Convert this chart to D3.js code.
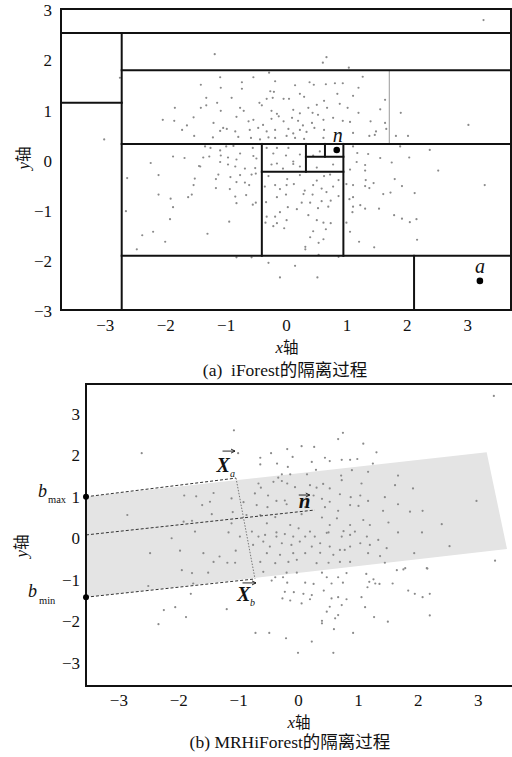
<!DOCTYPE html>
<html><head><meta charset="utf-8">
<script src="https://cdn.jsdelivr.net/npm/d3@7"></script>
<style>
body{margin:0;background:#fff}
svg{display:block}
text{font-family:"Liberation Serif","Times New Roman","Noto Sans CJK SC",serif;fill:#111}
</style>
</head><body>
<script>
// ---------- data ----------
const xTicks = [-3,-2,-1,0,1,2,3];
const yTicks = [-3,-2,-1,0,1,2,3];
const captionA = "(a)  iForest的隔离过程";
const captionB = "(b) MRHiForest的隔离过程";

// iForest partition segments [x1,y1,x2,y2] (data units)
const splitsA = [
  [-3.725,2.52,3.725,2.52],
  [-2.72,-3,-2.72,2.52],
  [-3.725,1.13,-2.72,1.13],
  [-2.72,1.78,3.725,1.78],
  [-2.72,0.31,3.725,0.31],
  [-2.72,-1.92,3.725,-1.92],
  [2.12,-3,2.12,-1.92],
  [-0.40,-1.92,-0.40,0.31],
  [0.95,-1.92,0.95,0.31],
  [-0.40,-0.243,0.95,-0.243],
  [0.33,-0.243,0.33,0.31],
  [0.33,0.056,0.95,0.056],
  [0.645,0.056,0.645,0.31]
];
const thinSplitsA = [[1.71,0.31,1.71,1.78]];

const pointsA = [
[-1.09,1.64],[-0.28,1.73],[-1.41,1.49],[-1.08,1.43],[-0.73,1.54],[-0.54,1.64],[-0.18,1.56],[0.15,1.48],[0.39,1.54],[0.46,1.49],[0.66,1.50],[0.81,1.52],[0.94,1.52],[1.27,1.65],[1.20,1.43],[-0.73,1.41],[-0.26,1.36],[-0.20,1.35],[0.23,1.31],[0.30,1.25],[0.85,1.31],[1.11,1.27],[-1.32,1.23],[-1.14,1.13],[-0.90,1.23],[-0.44,1.13],[-0.32,1.21],[-0.22,1.23],[-0.04,1.21],[0.05,1.21],[0.51,1.09],[0.63,1.17],[0.89,1.11],[1.64,1.19],[-1.84,1.03],[-1.41,1.03],[-1.32,1.08],[-1.08,0.97],[-0.76,1.03],[-0.70,0.97],[-0.40,1.08],[-0.24,0.97],[-0.15,0.91],[0.12,0.99],[0.23,0.92],[0.37,1.03],[0.44,0.93],[0.68,1.03],[1.02,1.03],[1.20,0.93],[1.56,1.00],
[-2.04,0.79],[-1.85,0.77],[-1.53,0.84],[-1.20,0.73],[-1.04,0.63],[-0.82,0.85],[-0.62,0.76],[-0.54,0.79],[-0.38,0.69],[-0.24,0.81],[-0.12,0.86],[-0.04,0.76],[0.10,0.83],[0.20,0.77],[0.28,0.68],[0.43,0.73],[0.53,0.89],[0.62,0.79],[0.78,0.83],[0.94,0.77],[1.06,0.75],[1.40,0.76],[1.64,0.73],
[-1.72,0.59],[-1.64,0.68],[-1.09,0.57],[-0.98,0.61],[-0.84,0.56],[-0.60,0.59],[-0.46,0.63],[-0.32,0.56],[-0.18,0.59],[0.04,0.61],[0.12,0.52],[0.23,0.59],[0.34,0.55],[0.47,0.63],[0.63,0.59],[0.89,0.52],[1.11,0.53],[1.49,0.56],[1.66,0.61],
[-1.52,0.47],[-1.21,0.44],[-0.79,0.45],[-0.58,0.43],[-0.43,0.40],[-0.29,0.44],[-0.18,0.43],[0.01,0.47],[0.15,0.43],[0.30,0.41],[0.62,0.43],[1.38,0.47],[1.47,0.49],[1.90,0.93],[1.82,0.47],[2.02,0.47],[3.02,0.69],
[0.67,2.04],[0.61,1.93],[1.04,1.83],[-1.18,2.10],[-2.75,1.63],[-3.01,0.40],[3.27,2.78],
[-2.24,-0.07],[-1.87,0.06],[-1.68,0.03],[-1.42,-0.14],[-1.37,0.04],[-1.27,0.06],[-1.34,0.26],[-1.25,0.23],[-1.09,0.18],[-1.08,0.08],[-0.99,0.26],[-0.96,0.04],[-0.87,0.27],[-0.82,0.00],[-0.76,0.12],[-0.55,0.23],[-0.54,0.07],[-0.49,0.02],[-0.32,0.23],[-0.21,0.12],[-0.15,0.23],[0.00,0.08],[0.04,0.23],[0.12,-0.04],[0.23,0.10],[0.45,0.08],[0.56,0.16],[1.11,0.26],[1.18,0.13],[1.36,0.11],[1.56,0.03],[1.89,0.26],[2.04,0.04],[2.38,0.19],[2.52,-0.22],
[-1.44,-0.13],[-1.09,-0.05],[-0.96,-0.10],[-0.84,-0.14],[-0.68,-0.18],[-0.51,-0.17],[-2.63,-0.37],[-2.11,-0.31],[-1.53,-0.51],[-1.51,-0.38],[-1.16,-0.39],[-1.12,-0.30],[-0.92,-0.35],[-0.82,-0.45],[-0.76,-0.31],[-0.68,-0.46],[-0.61,-0.51],[-0.57,-0.30],[-0.50,-0.28],[-1.16,-0.57],[-0.93,-0.59],[-2.11,-0.70],[-1.91,-0.78],[-1.62,-0.75],[-1.56,-0.70],[-0.84,-0.74],[-0.82,-0.87],[-0.66,-0.71],[-0.55,-0.90],[-0.50,-0.86],[-2.65,-1.03],[-1.87,-0.95],[-1.92,-1.19],[-0.94,-1.24],[-2.20,-1.44],[-2.38,-1.51],[-1.30,-1.48],[-2.00,-1.64],[-2.47,-1.79],
[-0.24,-0.10],[-0.15,-0.08],[-0.05,-0.18],[0.12,-0.09],[0.23,-0.14],[0.51,-0.16],[0.78,-0.10],[-0.29,-0.33],[0.02,-0.39],[0.23,-0.31],[0.51,-0.42],[0.63,-0.33],[0.73,-0.30],[0.87,-0.41],[-0.35,-0.54],[-0.18,-0.51],[-0.10,-0.59],[0.01,-0.51],[0.13,-0.49],[0.31,-0.62],[0.45,-0.51],[0.59,-0.58],[0.67,-0.65],[0.78,-0.54],[-0.15,-0.75],[0.00,-0.70],[0.29,-0.69],[0.44,-0.70],[0.87,-0.73],[-0.33,-0.85],[0.26,-0.86],[0.40,-0.86],[0.59,-0.83],[0.74,-0.82],[0.70,-0.94],[0.53,-0.97],[-0.10,-1.05],[0.03,-0.95],[0.18,-0.99],[-0.32,-1.14],[-0.18,-1.14],[0.01,-1.21],[0.37,-1.11],[0.51,-1.21],[0.62,-1.26],[0.74,-1.27],[-0.34,-1.26],[-0.15,-1.27],[-0.21,-1.33],[-0.03,-1.37],[0.66,-1.39],[0.45,-1.43],[0.40,-1.55],[0.54,-1.66],[0.62,-1.59],[0.32,-1.74],[0.32,-1.79],[0.54,-1.90],
[1.17,-0.05],[1.31,-0.11],[1.75,-0.06],[1.06,-0.20],[1.31,-0.22],[1.80,-0.39],[1.00,-0.49],[1.11,-0.51],[1.32,-0.41],[1.31,-0.53],[1.45,-0.47],[1.38,-0.57],[1.61,-0.69],[1.73,-0.66],[1.92,-0.53],[2.13,-0.67],[1.05,-0.79],[1.11,-0.75],[1.23,-0.91],[1.11,-0.94],[1.31,-0.98],[1.54,-0.98],[1.10,-1.05],[1.79,-1.11],[1.92,-1.18],[2.05,-1.25],[2.16,-1.19],[1.00,-1.26],[1.06,-1.44],[1.21,-1.64],[1.46,-1.75],[2.17,-1.60],[3.29,-0.51],
[-0.29,-2.06],[0.15,-2.12],[-0.10,-2.35],[0.52,-2.35],[-0.82,-1.95],[-0.57,-1.95],[0.87,-1.94]
];
const normalA = [0.84,0.19];
const anomalyA = [3.21,-2.42];

const pointsB = [
[-1.07,2.57],[0.75,2.51],[0.67,2.36],[1.09,2.25],[0.06,2.19],[0.27,2.17],[-0.18,2.12],[-1.00,2.02],[-0.45,2.02],[1.31,2.04],[-0.63,1.91],[-0.09,1.93],[0.45,1.91],[0.53,1.83],[0.73,1.86],[0.87,1.86],[0.99,1.88],[0.23,1.81],[-0.63,1.75],[-0.35,1.77],[-0.17,1.69],[1.25,1.77],[0.30,1.62],[0.15,1.51],[-0.13,1.51],[-0.27,1.51],[-0.33,1.43],[0.72,1.48],[0.90,1.61],[1.17,1.57],[1.67,1.48],[-0.66,1.29],[-0.62,1.19],[-0.41,1.33],[-0.27,1.35],[-0.18,1.29],[-0.05,1.20],[0.20,1.25],[0.31,1.19],[0.42,1.28],[0.53,1.17],[0.73,1.37],[1.06,1.29],[1.62,1.25],[1.92,1.17],
[-1.90,1.00],[-1.70,0.98],[-1.41,1.06],[-1.11,0.93],[-0.72,1.05],[-0.50,1.00],[-0.36,0.87],[-0.22,0.88],[0.26,1.00],[0.40,0.92],[0.53,0.85],[0.70,1.03],[0.88,0.96],[1.04,1.00],[1.17,0.87],[1.45,0.96],[1.67,0.79],[-1.60,0.77],[-1.47,0.85],[-0.91,0.84],[-0.69,0.77],[-0.51,0.72],[-0.19,0.79],[0.12,0.72],[0.45,0.72],[0.87,0.77],[1.01,0.75],[0.67,0.63],[1.42,0.63],[1.87,0.61],[2.08,0.63],[2.98,0.87],
[-1.44,0.55],[-1.09,0.60],[-0.86,0.53],[-0.63,0.53],[-0.38,0.48],[0.06,0.55],[0.40,0.47],[0.65,0.45],[1.09,0.41],[-1.91,0.37],[-1.77,0.39],[-1.11,0.33],[-0.52,0.33],[-0.13,0.29],[0.01,0.21],[0.53,0.29],[0.87,0.29],[1.20,0.29],[1.51,0.35],[2.40,0.31],[-1.72,0.13],[-1.16,0.11],[-0.77,0.13],[-0.36,0.11],[0.20,0.13],[0.51,0.11],[0.76,0.14],[0.95,0.13],[1.67,0.11],[2.07,0.11],
[3.27,3.40],[2.53,-0.22],[3.29,-0.57],[1.94,-0.39],[1.79,-0.75],[1.65,-0.80],[2.15,-0.75],
[-0.66,0.01],[-0.55,0.05],[-0.36,0.01],[-0.22,0.07],[-0.08,0.01],[0.12,0.01],[0.28,0.01],[0.48,0.10],[0.73,0.01],[0.87,0.05],[1.15,0.01],[1.34,-0.07],[-0.75,-0.19],[-0.58,-0.11],[-0.47,-0.23],[-0.27,-0.15],[-0.11,-0.19],[0.03,-0.11],[0.23,-0.23],[0.37,-0.15],[0.53,-0.23],[0.70,-0.31],[0.87,-0.23],[1.04,-0.15],[1.20,-0.19],[1.48,-0.27],[-0.52,-0.39],[-0.30,-0.43],[-0.08,-0.39],[0.12,-0.39],[0.37,-0.38],[0.59,-0.43],[0.78,-0.31],[1.17,-0.39],[1.37,-0.46],[-0.63,-0.60],[-0.38,-0.63],[-0.16,-0.60],[-0.02,-0.55],[0.31,-0.63],[0.51,-0.62],[0.70,-0.60],[0.87,-0.60],[1.45,-0.62],[-0.58,-0.84],[-0.19,-0.86],[0.40,-0.86],[0.81,-0.87],[1.14,-0.89],[-0.38,-0.97],[0.48,-0.97],[0.67,-0.97],[1.26,-1.02],
[-2.11,-0.03],[-1.97,-0.33],[-1.77,-0.87],[-1.50,-0.86],[-1.41,-0.60],[-1.31,-0.47],[-1.05,-0.62],[-1.04,-0.33],[-0.97,0.01],[-1.75,-1.12],[-1.79,-1.37],[-2.24,-1.76],[-2.05,-1.69],[-1.87,-1.93],[-2.33,-2.10],[-1.19,-1.74],
[-0.25,-0.97],[-0.44,-1.05],[-0.18,-1.10],[-0.02,-0.86],[0.12,-1.10],[0.26,-1.13],[0.43,-1.29],[0.56,-1.12],[0.75,-1.10],[-0.22,-1.32],[-0.07,-1.33],[0.09,-1.37],[0.23,-1.40],[-0.26,-1.48],[-0.13,-1.53],[0.06,-1.60],[0.20,-1.50],[0.56,-1.48],[0.67,-1.45],[0.81,-1.50],[0.73,-1.64],[1.06,-1.45],[0.53,-1.68],[0.48,-1.80],[0.67,-1.88],[0.62,-1.96],[0.40,-2.02],[0.40,-2.08],[0.60,-2.22],[0.92,-2.31],[1.12,-1.69],[1.27,-1.93],[1.50,-2.04],[1.16,-1.21],[1.19,-1.08],[1.29,-1.12],[1.36,-1.13],[1.58,-1.12],[1.84,-1.29],[1.95,-1.37],[2.08,-1.45],[2.20,-1.37],[2.20,-1.89],[2.16,-0.76],[1.76,-0.78],[-0.71,-2.31],[-0.48,-2.31],[-0.20,-2.44],[0.23,-2.52],[0.00,-2.79],[0.59,-2.79],
[-2.61,2.02],[-2.85,0.53],[-2.47,-0.39],[-1.58,-0.39],[-1.94,-0.80],[-1.18,-0.62],[-2.50,-1.18]
];
// rotated hyper-plane band (MRHiForest)
const bandB = [[-3.54,0.97],[3.15,2.04],[3.49,-0.29],[-3.54,-1.45]];
const bMax = [-3.54,0.97];
const bMin = [-3.54,-1.45];
const Xa = [-1.035,1.42];
const Xb = [-0.718,-1.01];
const nStart = [-3.54,0.05];
const nEnd = [0.28,0.65];

// ---------- drawing ----------
const W = 512, H = 757;
const svg = d3.select("body").append("svg").attr("width",W).attr("height",H);
svg.append("rect").attr("width",W).attr("height",H).attr("fill","#fff");

const fmt = d => d3.format("d")(d);
const TICKFONT = 17;

// ===== Chart A =====
const xA = d3.scaleLinear().domain([-3.725,3.725]).range([61,511]);
const yA = d3.scaleLinear().domain([-3,3]).range([310,9]);
const gA = svg.append("g");

gA.append("g").selectAll("circle").data(pointsA).join("circle")
  .attr("cx",d=>xA(d[0])).attr("cy",d=>yA(d[1])).attr("r",1.1).attr("fill","#8a8a8a");

gA.append("g").selectAll("line").data(thinSplitsA).join("line")
  .attr("x1",d=>xA(d[0])).attr("y1",d=>yA(d[1])).attr("x2",d=>xA(d[2])).attr("y2",d=>yA(d[3]))
  .attr("stroke","#999").attr("stroke-width",1);

gA.append("g").selectAll("line").data(splitsA).join("line")
  .attr("x1",d=>xA(d[0])).attr("y1",d=>yA(d[1])).attr("x2",d=>xA(d[2])).attr("y2",d=>yA(d[3]))
  .attr("stroke","#111").attr("stroke-width",2).attr("stroke-linecap","square");

gA.append("rect").attr("x",xA.range()[0]).attr("y",yA.range()[1])
  .attr("width",xA.range()[1]-xA.range()[0]).attr("height",yA.range()[0]-yA.range()[1])
  .attr("fill","none").attr("stroke","#111").attr("stroke-width",2);

gA.append("circle").attr("cx",xA(normalA[0])).attr("cy",yA(normalA[1])).attr("r",3.3).attr("fill","#000");
gA.append("circle").attr("cx",xA(anomalyA[0])).attr("cy",yA(anomalyA[1])).attr("r",3.3).attr("fill","#000");
gA.append("text").attr("x",xA(normalA[0])+1).attr("y",yA(normalA[1])-8)
  .attr("text-anchor","middle").attr("font-style","italic").attr("font-size",20).text("n");
gA.append("text").attr("x",xA(anomalyA[0])).attr("y",yA(anomalyA[1])-8)
  .attr("text-anchor","middle").attr("font-style","italic").attr("font-size",20).text("a");

const axAx = gA.append("g").attr("transform",`translate(0,${yA.range()[0]})`)
  .call(d3.axisBottom(xA).tickValues(xTicks).tickSize(0).tickPadding(9).tickFormat(fmt));
const axAy = gA.append("g").attr("transform",`translate(${xA.range()[0]},0)`)
  .call(d3.axisLeft(yA).tickValues(yTicks).tickSize(0).tickPadding(9).tickFormat(fmt));
[axAx,axAy].forEach(a=>{a.select(".domain").remove();
  a.selectAll("text").attr("font-size",TICKFONT).attr("fill","#111")
   .attr("font-family","'Liberation Serif','Times New Roman',serif");});
axAy.selectAll("text").attr("dy","0.4em");

function axisTitle(g, x, y, letter, rotate){
  const t = g.append("text").attr("text-anchor","middle").attr("font-size",17)
    .attr("transform",`translate(${x},${y})${rotate?" rotate(-90)":""}`);
  t.append("tspan").attr("font-style","italic").text(letter);
  t.append("tspan").attr("font-family","'Noto Sans CJK SC',sans-serif").attr("font-size",15.5).text("轴");
}
axisTitle(gA, 287, 353, "x", false);
axisTitle(gA, 29, 158, "y", true);
gA.append("text").attr("x",285).attr("y",376).attr("text-anchor","middle").attr("font-size",17.5)
  .attr("xml:space","preserve").style("white-space","pre").text(captionA);

// ===== Chart B =====
const xB = d3.scaleLinear().domain([-3.54,3.573]).range([86,512]);
const yB = d3.scaleLinear().domain([-3.59,3.687]).range([686,384]);
const gB = svg.append("g");

gB.append("path").datum(bandB)
  .attr("d",d3.line().x(d=>xB(d[0])).y(d=>yB(d[1])).curve(d3.curveLinearClosed))
  .attr("fill","#e4e4e4").attr("stroke","none");

gB.append("g").selectAll("circle").data(pointsB).join("circle")
  .attr("cx",d=>xB(d[0])).attr("cy",d=>yB(d[1])).attr("r",1.1).attr("fill","#8a8a8a");

const dashed = [[bMax,Xa],[nStart,nEnd],[bMin,Xb],[Xa,Xb]];
gB.append("g").selectAll("line").data(dashed).join("line")
  .attr("x1",d=>xB(d[0][0])).attr("y1",d=>yB(d[0][1])).attr("x2",d=>xB(d[1][0])).attr("y2",d=>yB(d[1][1]))
  .attr("stroke",(d,i)=>i===3?"#777":"#333").attr("stroke-width",1).attr("stroke-dasharray",(d,i)=>i===3?"1.5,1.5":"3,2");

const x0 = xB.range()[0], x1 = xB.range()[1], yT = yB.range()[1], yBt = yB.range()[0];
gB.append("path").attr("d",`M${x1},${yT}H${x0}V${yBt}H${x1}`)
  .attr("fill","none").attr("stroke","#111").attr("stroke-width",2);

[bMax,bMin].forEach(p=>gB.append("circle").attr("cx",xB(p[0])).attr("cy",yB(p[1])).attr("r",3).attr("fill","#000"));

const axBx = gB.append("g").attr("transform",`translate(0,${yBt})`)
  .call(d3.axisBottom(xB).tickValues(xTicks).tickSize(0).tickPadding(8).tickFormat(fmt));
const axBy = gB.append("g").attr("transform",`translate(${x0},0)`)
  .call(d3.axisLeft(yB).tickValues(yTicks).tickSize(0).tickPadding(6).tickFormat(fmt));
[axBx,axBy].forEach(a=>{a.select(".domain").remove();
  a.selectAll("text").attr("font-size",TICKFONT).attr("fill","#111")
   .attr("font-family","'Liberation Serif','Times New Roman',serif");});
axBy.selectAll("text").attr("dy","0.4em");

// vector arrow helper (pixel-space decoration above a label)
function vecArrow(g, xs, xe, y){
  g.append("path").attr("d",`M${xs},${y}H${xe}M${xe-4},${y-2}L${xe},${y}L${xe-4},${y+2}`)
    .attr("fill","none").attr("stroke","#111").attr("stroke-width",0.9);
}
// X_a
{
  const px = xB(Xa[0]), py = yB(Xa[1]);
  gB.append("text").attr("x",px-19.5).attr("y",py-6.5).attr("font-size",20).attr("font-weight","bold")
    .attr("font-style","italic").text("X");
  gB.append("text").attr("x",px-6).attr("y",py-1).attr("font-size",10).attr("font-style","italic").text("a");
  vecArrow(gB, px-13.5, px-1, py-27);
}
// X_b
{
  const px = xB(Xb[0]), py = yB(Xb[1]);
  gB.append("text").attr("x",px-18).attr("y",py+22).attr("font-size",20).attr("font-weight","bold")
    .attr("font-style","italic").text("X");
  gB.append("text").attr("x",px-5).attr("y",py+27).attr("font-size",10).attr("font-style","italic").text("b");
  vecArrow(gB, px-12.5, px+1, py+4);
}
// n
{
  const px = xB(nEnd[0]), py = yB(nEnd[1]);
  gB.append("text").attr("x",px-16).attr("y",py-2).attr("font-size",21).attr("font-weight","bold")
    .attr("font-style","italic").text("n");
  vecArrow(gB, px-16, px-5, py-15);
}
// b_max, b_min
{
  const px = xB(bMax[0]), py = yB(bMax[1]);
  gB.append("text").attr("x",px-48).attr("y",py).attr("font-size",18).attr("font-style","italic").text("b");
  gB.append("text").attr("x",px-38).attr("y",py+6).attr("font-size",10.5).text("max");
}
{
  const px = xB(bMin[0]), py = yB(bMin[1]);
  gB.append("text").attr("x",px-58).attr("y",py).attr("font-size",18).attr("font-style","italic").text("b");
  gB.append("text").attr("x",px-47).attr("y",py+7).attr("font-size",10.5).text("min");
}

axisTitle(gB, 299, 728, "x", false);
axisTitle(gB, 27, 546, "y", true);
gB.append("text").attr("x",290).attr("y",748).attr("text-anchor","middle").attr("font-size",17.5)
  .text(captionB);
</script>
</body></html>
